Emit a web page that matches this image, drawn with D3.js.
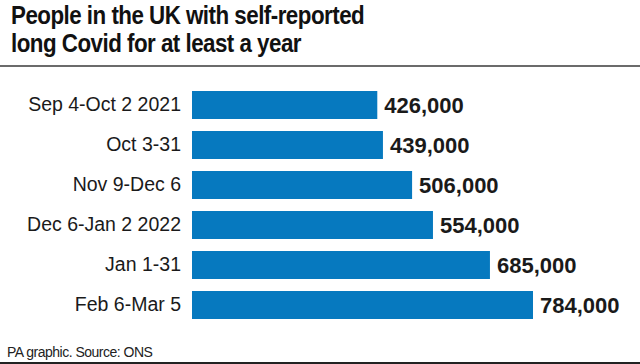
<!DOCTYPE html>
<html><head><meta charset="utf-8">
<script src="https://cdn.jsdelivr.net/npm/d3@7"></script>
<style>body{margin:0;background:#fff}svg{display:block}</style>
</head><body>
<script>
const categories = ["Sep 4-Oct 2 2021","Oct 3-31","Nov 9-Dec 6","Dec 6-Jan 2 2022","Jan 1-31","Feb 6-Mar 5"];
const values = [426000,439000,506000,554000,685000,784000];
const titleLines = ["People in the UK with self-reported","long Covid for at least a year"];
const source = "PA graphic. Source: ONS";

const W=640,H=364;
const svg=d3.select("body").append("svg").attr("width",W).attr("height",H);
const font="'Liberation Sans', Arial, sans-serif";

const tg=svg.append("g").attr("transform","translate(11,0) scale(0.86,1)");
tg.selectAll("text.title").data(titleLines).join("text")
  .attr("x",0).attr("y",(d,i)=>24+i*28)
  .attr("font-family",font).attr("font-weight","bold").attr("font-size",26)
  .attr("letter-spacing",-0.6).attr("fill","#111").text(d=>d);

svg.append("rect").attr("x",0).attr("y",65).attr("width",W).attr("height",2).attr("fill","#6b6b6b");

const x=d3.scaleLinear().domain([0,784000]).range([192,533]);
const y=d3.scaleBand().domain(categories).range([85,325]).paddingInner(0.3).paddingOuter(0.15);

svg.selectAll("rect.bar").data(values).join("rect").attr("class","bar")
  .attr("x",x(0)).attr("y",(d,i)=>y(categories[i]))
  .attr("width",d=>x(d)-x(0)).attr("height",y.bandwidth()).attr("fill","#0679bf");

const yAxis=d3.axisLeft(y).tickSize(0).tickPadding(0);
const ag=svg.append("g").attr("transform","translate(181,0)").call(yAxis);
ag.select(".domain").remove();
ag.selectAll("text").attr("font-family",font).attr("font-size",19.5).attr("fill","#1a1a1a");

svg.selectAll("text.val").data(values).join("text").attr("class","val")
  .attr("x",d=>x(d)+7).attr("y",(d,i)=>y(categories[i])+y.bandwidth()/2)
  .attr("dy","0.36em").attr("font-family",font).attr("font-weight","bold").attr("font-size",22)
  .attr("fill","#1a1a1a").text(d=>d3.format(",")(d));

svg.append("text").attr("x",7).attr("y",357).attr("font-family",font).attr("font-size",14)
  .attr("letter-spacing",-0.5).attr("fill","#222").text(source);
svg.append("rect").attr("x",0).attr("y",362).attr("width",W).attr("height",2).attr("fill","#222");
</script>
</body></html>
